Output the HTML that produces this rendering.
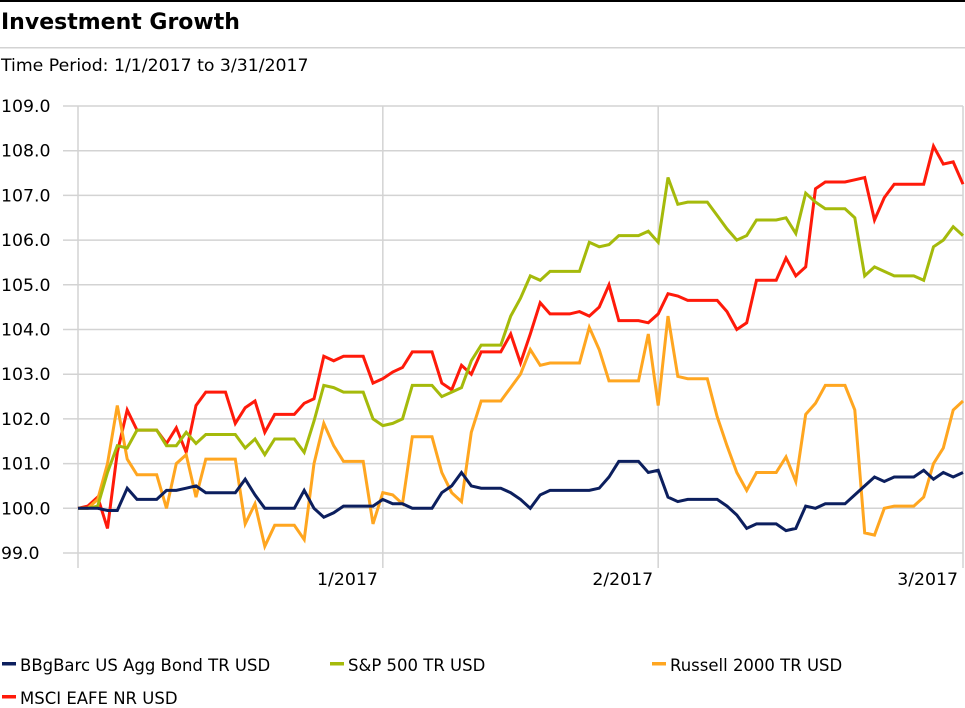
<!DOCTYPE html>
<html><head><meta charset="utf-8"><style>
body{margin:0;width:965px;height:704px;background:#fff;overflow:hidden;font-family:"DejaVu Sans","Liberation Sans",sans-serif;}
svg text{font-family:"DejaVu Sans","Liberation Sans",sans-serif;}
</style></head><body>
<svg id="chart" width="965" height="704" xmlns="http://www.w3.org/2000/svg">
<rect x="0" y="0" width="965" height="2" fill="#000"/>
<text x="1" y="29" font-size="22" font-weight="bold" fill="#000">Investment Growth</text>
<rect x="0" y="47" width="965" height="1.5" fill="#d3d3d3"/>
<text x="1" y="71" font-size="17.3" fill="#000">Time Period: 1/1/2017 to 3/31/2017</text>
<g id="grid"></g>
<g id="series"></g>
<g id="legend"></g>
</svg>
<script>
const yTicks = [109,108,107,106,105,104,103,102,101,100,99];
const xTickIdx = [31,59,90];
const xTickLabels = ["1/2017","2/2017","3/2017"];
const seriesNames = ["BBgBarc US Agg Bond TR USD","S&P 500 TR USD","Russell 2000 TR USD","MSCI EAFE NR USD"];
const bondValues = [100,100,100,99.95,99.95,100.45,100.2,100.2,100.2,100.4,100.4,100.45,100.5,100.35,100.35,100.35,100.35,100.65,100.3,100.0,100.0,100.0,100.0,100.4,100.0,99.8,99.9,100.05,100.05,100.05,100.05,100.2,100.1,100.1,100.0,100.0,100.0,100.35,100.5,100.8,100.5,100.45,100.45,100.45,100.35,100.2,100.0,100.3,100.4,100.4,100.4,100.4,100.4,100.45,100.7,101.05,101.05,101.05,100.8,100.85,100.25,100.15,100.2,100.2,100.2,100.2,100.05,99.85,99.55,99.65,99.65,99.65,99.5,99.55,100.05,100.0,100.1,100.1,100.1,100.3,100.5,100.7,100.6,100.7,100.7,100.7,100.85,100.65,100.8,100.7,100.8];
const spValues = [100,100,100.05,100.8,101.4,101.35,101.75,101.75,101.75,101.4,101.4,101.7,101.45,101.65,101.65,101.65,101.65,101.35,101.55,101.2,101.55,101.55,101.55,101.25,101.95,102.75,102.7,102.6,102.6,102.6,102.0,101.85,101.9,102.0,102.75,102.75,102.75,102.5,102.6,102.7,103.3,103.65,103.65,103.65,104.3,104.7,105.2,105.1,105.3,105.3,105.3,105.3,105.95,105.85,105.9,106.1,106.1,106.1,106.2,105.95,107.4,106.8,106.85,106.85,106.85,106.55,106.25,106.0,106.1,106.45,106.45,106.45,106.5,106.15,107.05,106.85,106.7,106.7,106.7,106.5,105.2,105.4,105.3,105.2,105.2,105.2,105.1,105.85,106.0,106.3,106.1];
const russellValues = [100,100,100.2,101.0,102.3,101.1,100.75,100.75,100.75,100.0,101.0,101.2,100.25,101.1,101.1,101.1,101.1,99.65,100.1,99.15,99.62,99.62,99.62,99.3,101.0,101.9,101.4,101.05,101.05,101.05,99.65,100.35,100.3,100.1,101.6,101.6,101.6,100.8,100.35,100.15,101.7,102.4,102.4,102.4,102.7,103.0,103.55,103.2,103.25,103.25,103.25,103.25,104.05,103.55,102.85,102.85,102.85,102.85,103.9,102.3,104.3,102.95,102.9,102.9,102.9,102.05,101.4,100.8,100.4,100.8,100.8,100.8,101.15,100.6,102.1,102.35,102.75,102.75,102.75,102.2,99.45,99.4,100.0,100.05,100.05,100.05,100.25,101.0,101.35,102.2,102.4];
const eafeValues = [100,100.05,100.25,99.55,101.25,102.2,101.75,101.75,101.75,101.45,101.8,101.25,102.3,102.6,102.6,102.6,101.9,102.25,102.4,101.7,102.1,102.1,102.1,102.35,102.45,103.4,103.3,103.4,103.4,103.4,102.8,102.9,103.05,103.15,103.5,103.5,103.5,102.8,102.65,103.2,103.0,103.5,103.5,103.5,103.9,103.25,103.9,104.6,104.35,104.35,104.35,104.4,104.3,104.5,105.0,104.2,104.2,104.2,104.15,104.35,104.8,104.75,104.65,104.65,104.65,104.65,104.4,104.0,104.15,105.1,105.1,105.1,105.6,105.2,105.4,107.15,107.3,107.3,107.3,107.35,107.4,106.45,106.95,107.25,107.25,107.25,107.25,108.1,107.7,107.75,107.25];
const colors = ["#0c1f5e","#a5ba0b","#ffa620","#ff1a0a"];

const NS="http://www.w3.org/2000/svg";
const X0=78,X1=963,Y0=553,Y1=106,VMIN=99,VMAX=109,N=91;
function xs(i){return X0+(X1-X0)*i/(N-1);}
function ys(v){return Y0-(v-VMIN)*(Y0-Y1)/(VMAX-VMIN);}
function mk(tag,attrs,parent){const e=document.createElementNS(NS,tag);for(const k in attrs)e.setAttribute(k,attrs[k]);parent.appendChild(e);return e;}
const grid=document.getElementById('grid');
yTicks.forEach(v=>{
  const y=ys(v);
  const l=mk('line',{x1:63,x2:X1,y1:y,y2:y,stroke:'#d3d3d3','stroke-width':1.5},grid);
  
  
  const t=mk('text',{x:1,y:y+6,'font-size':17.3,fill:'#000'},grid);
  t.textContent=v.toFixed(1);
  
  
});
const ax=mk('line',{x1:X0,x2:X0,y1:Y1,y2:568,stroke:'#d3d3d3','stroke-width':1.5},grid);


xTickIdx.forEach((idx,k)=>{
  const x=Math.min(xs(idx),X1);
  const l=mk('line',{x1:x,x2:x,y1:Y1,y2:568,stroke:'#d3d3d3','stroke-width':1.5},grid);
  
  
  const t=mk('text',{x:x-5,y:585,'font-size':17.3,'text-anchor':'end',fill:'#000'},grid);
  t.textContent=xTickLabels[k];
  
  
});
const ser=document.getElementById('series');
const allVals=[bondValues,spValues,russellValues,eafeValues];
const drawOrder=[3,2,1,0];
const lineNames=['bond-line','sp500-line','russell-line','eafe-line'];
drawOrder.forEach(s=>{
  const pts=allVals[s].map((v,i)=>xs(i).toFixed(1)+','+ys(v).toFixed(1)).join(' ');
  const p=mk('polyline',{points:pts,fill:'none',stroke:colors[s],'stroke-width':3,'stroke-linejoin':'miter'},ser);
  
  
});
const leg=document.getElementById('legend');
const legPos=[[2,665],[330,665],[652,665],[2,698]];
seriesNames.forEach((n,s)=>{
  const [x,y]=legPos[s];
  const r=mk('rect',{x:x,y:y-3,width:14,height:3.5,fill:colors[s]},leg);
  
  
  const t=mk('text',{x:x+18,y:y+6,'font-size':16.5,fill:'#000'},leg);
  t.textContent=n;
  
  
});
</script>
</body></html>
